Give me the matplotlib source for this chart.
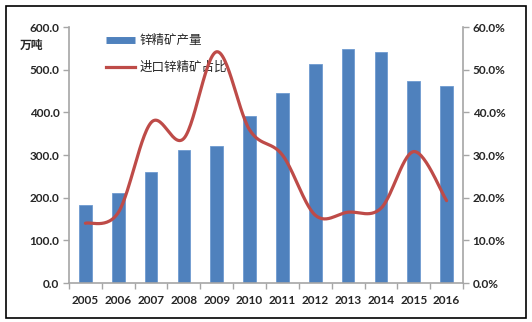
import matplotlib.pyplot as plt
import numpy as np
from matplotlib.lines import Line2D
from matplotlib.patches import Rectangle

years = ['2005', '2006', '2007', '2008', '2009', '2010',
         '2011', '2012', '2013', '2014', '2015', '2016']
output = [183, 212, 260, 312, 320, 392, 445, 513, 549, 541, 474, 462]
import_share = [14.0, 16.5, 37.6, 33.9, 54.2, 35.9, 30.0, 15.9, 16.6, 17.5, 30.8, 19.3]

bar_color = '#4F81BD'
line_color = '#BE4B48'
grey = '#A6A6A6'
num_font = 'Lato'
cjk_font = ['Noto Sans CJK SC', 'DejaVu Sans']


def smooth(xs, ys, sx, sy, n=30):
    # Excel-style smoothed line (Catmull-Rom as cubic Bezier), done in pixel space
    p = np.column_stack([np.asarray(xs, float) * sx, np.asarray(ys, float) * sy])
    p = np.vstack([p[0], p, p[-1]])
    t = np.linspace(0, 1, n)[:, None]
    out = []
    for i in range(1, len(p) - 2):
        p0, p1, p2, p3 = p[i - 1], p[i], p[i + 1], p[i + 2]
        c1 = p1 + (p2 - p0) / 6
        c2 = p2 - (p3 - p1) / 6
        seg = ((1 - t) ** 3) * p1 + 3 * ((1 - t) ** 2) * t * c1 + 3 * (1 - t) * t ** 2 * c2 + t ** 3 * p2
        out.append(seg)
    out = np.vstack(out)
    return out[:, 0] / sx, out[:, 1] / sy


fig = plt.figure(figsize=(5.32, 3.22), dpi=100)
ax = fig.add_axes([69 / 532, 39 / 322, 394 / 532, 256 / 322])
ax2 = ax.twinx()

x = np.arange(len(years))
ax.bar(x, output, width=0.39, color=bar_color, edgecolor='#6F9BD0', linewidth=0.6, zorder=2)
ax.set_xlim(-0.5, len(years) - 0.5)
ax.set_ylim(0, 600)
ax.set_yticks(np.arange(0, 601, 100))
ax.set_yticklabels([f'{v:.1f}' for v in np.arange(0, 601, 100)])
ax.set_xticks(x)
ax.set_xticklabels(years)
ax.set_xticks(np.arange(-0.5, len(years), 1), minor=True)

sx, sy = 32.9, 256 / 60
cx, cy = smooth(x, import_share, sx, sy)
ax2.plot(cx, cy, color=line_color, lw=2.3, solid_capstyle='round', zorder=3)
ax2.set_ylim(0, 60)
ax2.set_yticks(np.arange(0, 61, 10))
ax2.set_yticklabels([f'{v:.1f}%' for v in np.arange(0, 61, 10)])

for a in (ax, ax2):
    for s in a.spines.values():
        s.set_visible(False)
ax.spines['left'].set_visible(True)
ax.spines['bottom'].set_visible(True)
ax2.spines['right'].set_visible(True)
for s in (ax.spines['left'], ax.spines['bottom'], ax2.spines['right']):
    s.set_color(grey)
    s.set_linewidth(1.2)

ax.tick_params(axis='x', which='major', length=0, pad=9)
ax.tick_params(axis='x', which='minor', length=4, color=grey, width=1)
ax.tick_params(axis='y', length=4, color=grey, width=1, pad=3)
ax2.tick_params(axis='y', length=4, color=grey, width=1, pad=3)
for lab in ax.get_xticklabels() + ax.get_yticklabels() + ax2.get_yticklabels():
    lab.set_fontfamily(num_font)
    lab.set_fontweight('bold')
    lab.set_fontsize(8.5)
    lab.set_color('#262626')

fig.text(20 / 532, 1 - 45 / 322, '万吨', family=cjk_font, fontsize=8.5,
         fontweight='bold', color='#262626', va='center', ha='left')

handles = [Line2D([], [], color=bar_color, lw=5, solid_capstyle='butt'),
           Line2D([], [], color=line_color, lw=2.3)]
leg = ax.legend(handles, ['锌精矿产量', '进口锌精矿占比'], loc='upper left',
                bbox_to_anchor=(26 / 394, 1.015), frameon=False, handlelength=2.3,
                handletextpad=0.4, labelspacing=1.1,
                prop={'family': cjk_font, 'size': 9})
for t in leg.get_texts():
    t.set_color('#262626')

fig.patches.append(Rectangle((6 / 532, 4 / 322), 520 / 532, 312 / 322,
                             transform=fig.transFigure, fill=False,
                             edgecolor='black', linewidth=1.2))

fig.savefig('out.png', dpi=100)
